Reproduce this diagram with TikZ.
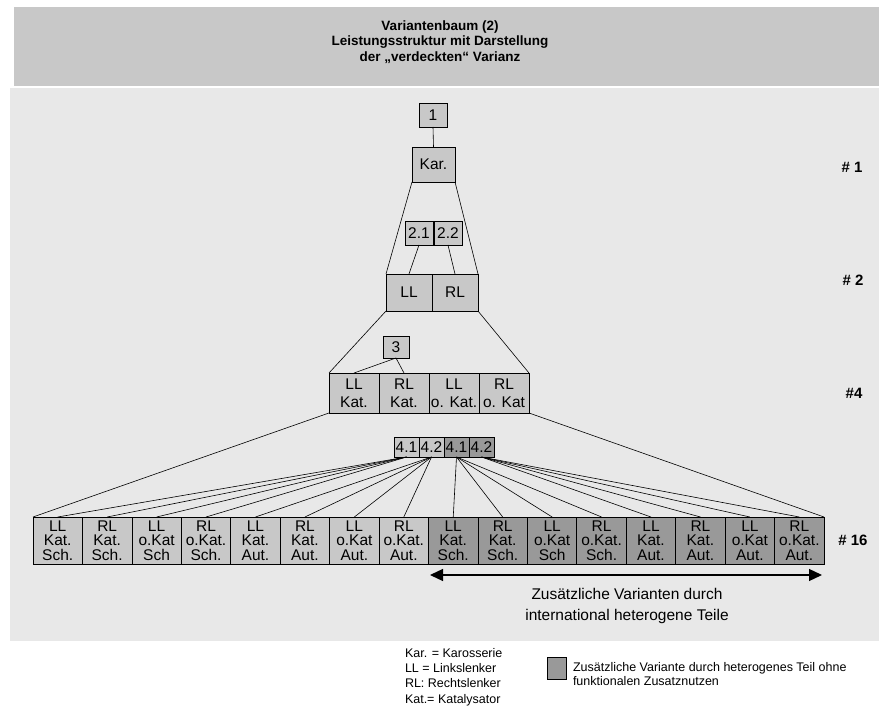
\documentclass[tikz,border=0pt]{standalone}
\usepackage{fontspec}
\setmainfont{Liberation Sans}
\usetikzlibrary{arrows.meta}
\definecolor{bandgray}{HTML}{C8C8C8}
\definecolor{panelgray}{HTML}{E8E8E8}
\definecolor{boxlight}{HTML}{C8C8C8}
\definecolor{boxdark}{HTML}{999999}
\begin{document}
\begin{tikzpicture}[x=1pt,y=-1pt,
  every node/.style={inner sep=0pt,outer sep=0pt},
  cell/.style={draw=black,line width=0.7pt,fill=boxlight,align=center,
    font=\fontsize{15.5}{17}\selectfont},
  pair/.style={cell,minimum width=50pt,minimum height=40pt,
    font=\fontsize{15.5}{18}\selectfont},
  bcell/.style={cell,minimum width=49.44pt,minimum height=47pt,
    font=\fontsize{15.5}{14.6}\selectfont},
  qcell/.style={cell,minimum width=25pt,minimum height=20pt},
  link/.style={draw=black,line width=0.6pt},
  lvl/.style={font=\bfseries\fontsize{15}{18}\selectfont},
  txt/.style={align=center,font=\fontsize{15.5}{21.7}\selectfont}]

\useasboundingbox (0,0) rectangle (879,708);
\fill[white] (0,0) rectangle (879,708);

% background bands
\fill[bandgray] (14,7) rectangle (879,86);
\fill[panelgray] (10,88) rectangle (879,641);

% heading
\node[align=center,font=\bfseries\fontsize{13.5}{15.5}\selectfont] (title) at (440,42)
  {Variantenbaum (2)\\Leistungsstruktur mit Darstellung\\der „verdeckten“ Varianz};

% level 1
\node[cell,minimum width=28pt,minimum height=24pt] (n1) at (433,115) {1};
\node[cell,minimum width=43pt,minimum height=35pt] (kar) at (433.5,164.5) {Kar.};

% level 2
\node[cell,minimum width=28pt,minimum height=24pt] (n21) at (419,233) {2.1};
\node[cell,minimum width=28pt,minimum height=24pt] (n22) at (448,233) {2.2};
\node[cell,minimum width=46pt,minimum height=37pt] (ll) at (409,292.5) {LL};
\node[cell,minimum width=46pt,minimum height=37pt] (rl) at (455,292.5) {RL};

% level 3
\node[cell,minimum width=26pt,minimum height=22pt] (n3) at (396,347) {3};
\node[pair] (p1) at (354,393) {LL\\Kat.};
\node[pair] (p2) at (404,393) {RL\\Kat.};
\node[pair] (p3) at (454,393) {LL\\o. Kat.};
\node[pair] (p4) at (504,393) {RL\\o. Kat};

% level 4 markers
\node[qcell] (q1) at (406.5,447) {4.1};
\node[qcell] (q2) at (431.5,447) {4.2};
\node[qcell,fill=boxdark] (q3) at (456.5,447) {4.1};
\node[qcell,fill=boxdark] (q4) at (481.5,447) {4.2};

% bottom row: left half light, right half dark
\foreach [count=\i] \t in {{LL\\Kat.\\Sch.},{RL\\Kat.\\Sch.},{LL\\o.Kat\\Sch},{RL\\o.Kat.\\Sch.},{LL\\Kat.\\Aut.},{RL\\Kat.\\Aut.},{LL\\o.Kat\\Aut.},{RL\\o.Kat.\\Aut.}} {
  \pgfmathtruncatemacro\j{\i+8}
  \node[bcell] (b\i) at ({33+49.44*(\i-0.5)},540.5) {\t};
  \node[bcell,fill=boxdark] (b\j) at ({33+49.44*(\j-0.5)},540.5) {\t};
}

% connectors
\draw[link] (n1.south) -- (kar.north);
\draw[link] (kar.south west) -- (ll.north west);
\draw[link] (kar.south east) -- (rl.north east);
\draw[link] (n21.south) -- (ll.north);
\draw[link] (n22.south) -- (rl.north);
\draw[link] (ll.south west) -- (p1.north west);
\draw[link] (rl.south east) -- (p4.north east);
\draw[link] (n3.south) -- (p1.north);
\draw[link] (n3.south) -- (p2.north);
\draw[link] (p1.south west) -- (b1.north west);
\draw[link] (p4.south east) -- (b16.north east);
\foreach \k in {1,...,4} {
  \pgfmathtruncatemacro\a{\k+4}
  \pgfmathtruncatemacro\b{\k+8}
  \pgfmathtruncatemacro\c{\k+12}
  \draw[link] (q1.south) -- (b\k.north);
  \draw[link] (q2.south) -- (b\a.north);
  \draw[link] (q3.south) -- (b\b.north);
  \draw[link] (q4.south) -- (b\c.north);
}

% level labels
\node[lvl] (l1) at (852,167) {\# 1};
\node[lvl] (l2) at (853,280) {\# 2};
\node[lvl] (l4) at (854,393) {\#4};
\node[lvl] (l16) at (853,540) {\# 16};

% span of the additional variants
\coordinate (aL) at (430,575);
\coordinate (aR) at (822,575);
\draw[line width=1.3pt,{Triangle[length=13pt,width=12pt]}-{Triangle[length=13pt,width=12pt]}] (aL) -- (aR);
\node[txt] (cap) at (627,606) {Zusätzliche Varianten durch\\international heterogene Teile};

% legend
\node[anchor=west,align=left,font=\fontsize{12.5}{15.3}\selectfont] (abbr) at (405,677)
  {Kar. = Karosserie\\LL = Linkslenker\\RL: Rechtslenker\\Kat.= Katalysator};
\node[draw=black,line width=0.7pt,fill=boxdark,minimum width=19pt,minimum height=22pt] (legsq) at (556.5,668) {};
\node[anchor=west,align=left,font=\fontsize{12.5}{14}\selectfont] (legtxt) at (573,674)
  {Zusätzliche Variante durch heterogenes Teil ohne\\funktionalen Zusatznutzen};
\end{tikzpicture}
\end{document}
